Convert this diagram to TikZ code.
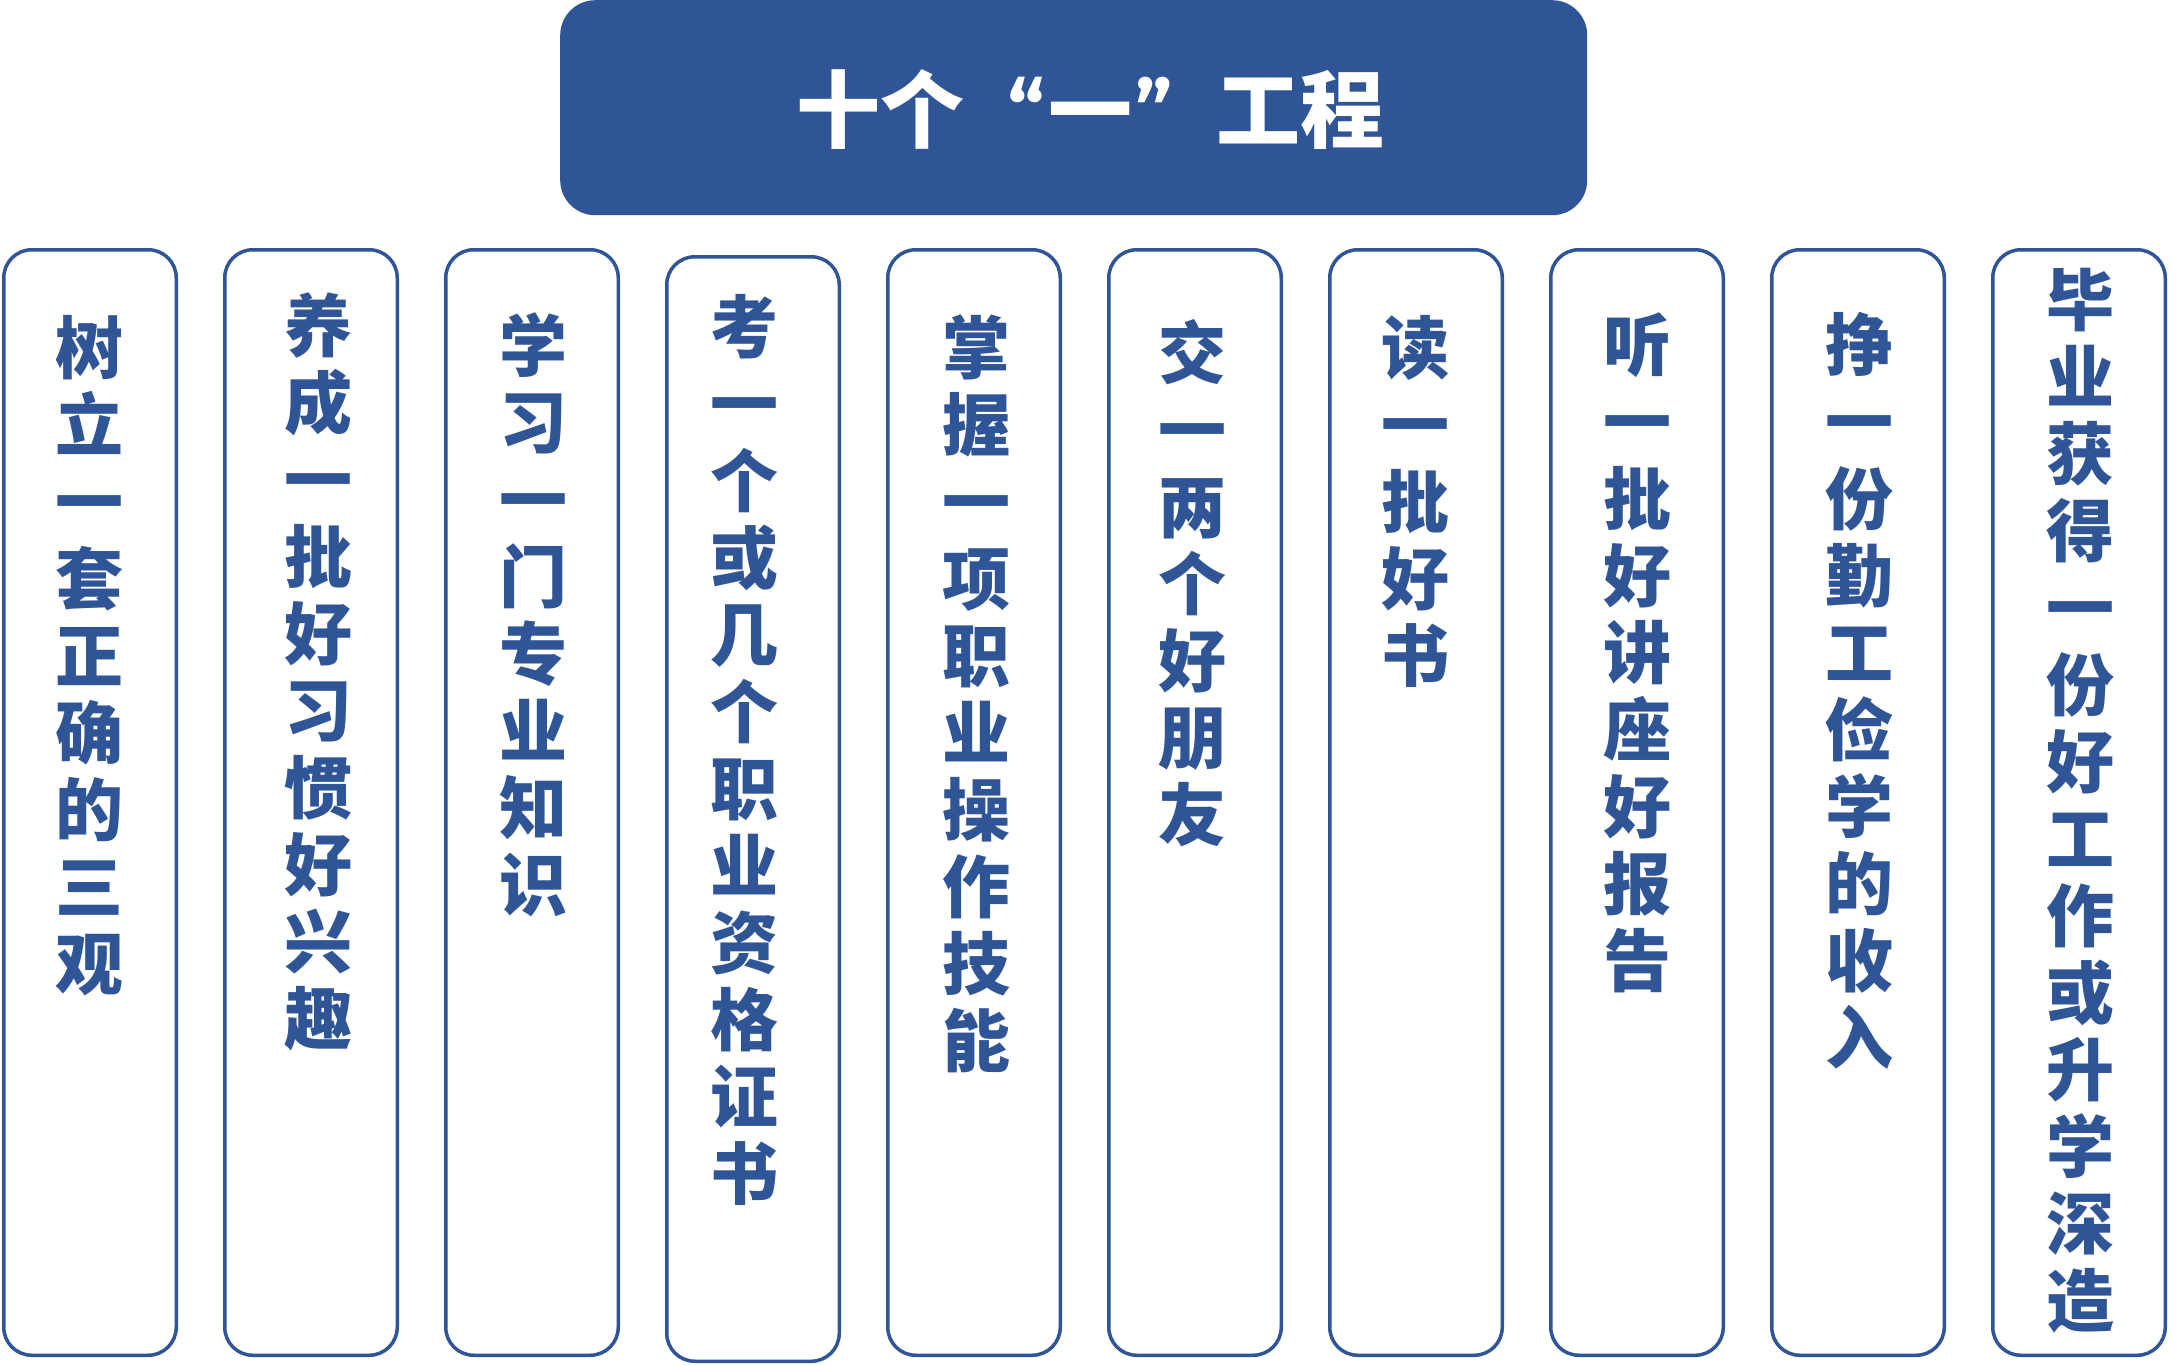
\documentclass[tikz,border=0pt]{standalone}
\usepackage{fontspec}
\newfontfamily\cjk{Noto Sans CJK SC}
\newfontfamily\qfont{Fira Sans}
\definecolor{mainblue}{HTML}{2F5597}
\begin{document}
\begin{tikzpicture}[x=1pt,y=-1pt,
  colbox/.style={draw=mainblue, line width=3.5pt, rounded corners=28pt, fill=white,
    minimum width=172.5pt, minimum height=1105.5pt, inner sep=0pt},
  colchar/.style={text=mainblue, font=\cjk\bfseries\fontsize{68}{68}\selectfont, inner sep=0pt, anchor=base},
  titlebox/.style={fill=mainblue, rounded corners=35pt, minimum width=1027pt, minimum height=215pt, inner sep=0pt},
  titletext/.style={text=white, font=\cjk\bfseries\fontsize{84}{84}\selectfont, inner sep=0pt, anchor=base}]
\useasboundingbox (0,0) rectangle (2172,1365);
% title
\node[titlebox, anchor=north west] (title) at (560,0) {};
\node[titletext] (titlelabel) at (1090,141)
  {十个\makebox[84pt][r]{\qfont\bfseries “\hspace{3pt}}一\makebox[84pt][l]{\hspace{3pt}\qfont\bfseries ”}工程};
% column boxes
\foreach \i in {0,1,2,4,5,6,7,8,9}
  \node[colbox] (box\i) at ({2+221*\i+88}, 802.5) {};
\node[colbox, minimum height=1104.5pt] (box3) at (753, 809) {};
% column texts
\foreach \ch [count=\k] in {树,立,一,套,正,确,的,三,观}
  \node[colchar] (a-\k) at (89, {373+77*\k-77}) {\ch};
\foreach \ch [count=\k] in {养,成,一,批,好,习,惯,好,兴,趣}
  \node[colchar] (b-\k) at (318, {351+77*\k-77}) {\ch};
\foreach \ch [count=\k] in {学,习,一,门,专,业,知,识}
  \node[colchar] (c-\k) at (533, {371+77*\k-77}) {\ch};
\foreach \ch [count=\k] in {考,一,个,或,几,个,职,业,资,格,证,书}
  \node[colchar] (d-\k) at (744, {352+77*\k-77}) {\ch};
\foreach \ch [count=\k] in {掌,握,一,项,职,业,操,作,技,能}
  \node[colchar] (e-\k) at (976, {373+77*\k-77}) {\ch};
\foreach \ch [count=\k] in {交,一,两,个,好,朋,友}
  \node[colchar] (f-\k) at (1192, {378+77*\k-77}) {\ch};
\foreach \ch [count=\k] in {读,一,批,好,书}
  \node[colchar] (g-\k) at (1415, {373+77*\k-77}) {\ch};
\foreach \ch [count=\k] in {听,一,批,好,讲,座,好,报,告}
  \node[colchar] (h-\k) at (1637, {370+77*\k-77}) {\ch};
\foreach \ch [count=\k] in {挣,一,份,勤,工,俭,学,的,收,入}
  \node[colchar] (i-\k) at (1859, {370+77*\k-77}) {\ch};
\foreach \ch [count=\k] in {毕,业,获,得,一,份,好,工,作,或,升,学,深,造}
  \node[colchar] (j-\k) at (2080, {325+77*\k-77}) {\ch};
\end{tikzpicture}
\end{document}
